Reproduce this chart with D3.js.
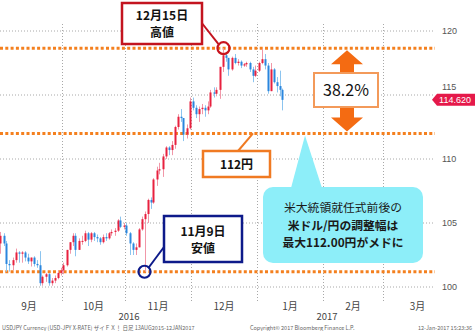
<!DOCTYPE html>
<html>
<head>
<meta charset="utf-8">
<script src="https://cdn.jsdelivr.net/npm/d3@7"></script>
<style>
body { margin: 0; background: #fff; }
svg { display: block; font-family: "Noto Sans CJK JP", "Noto Sans", sans-serif; }
</style>
</head>
<body>
<svg width="475" height="331"></svg>
<script>
// daily USDJPY, 1 Sep 2016 .. 12 Jan 2017 (one value per weekday)
var open = [
  103.0,103.4,104.0,103.4,101.8,101.7,102.1,102.7,102.6,102.7,102.3,102.0,102.3,101.8,101.7,100.3,100.8,101.0,100.3,100.5,100.7,101.1,
  101.3,101.7,102.9,103.5,104.0,102.9,103.6,103.6,104.2,103.7,104.2,103.9,103.8,103.5,103.9,103.8,104.2,104.3,104.4,105.2,104.7,
  104.8,104.2,103.4,102.9,103.1,104.5,105.3,105.7,106.8,106.6,108.4,109.1,109.2,110.2,110.9,110.7,111.1,112.5,113.3,113.2,111.9,112.4,
  114.5,114.0,113.5,113.9,114.0,113.8,114.1,115.2,115.1,115.4,117.2,118.1,117.9,117.0,117.9,117.5,117.6,117.3,117.4,117.5,117.0,116.5,
  116.9,117.5,117.8,117.3,115.3,117.0,116.0,115.7,115.4];
var high = [
  103.8,104.3,104.2,103.6,102.1,102.3,103.0,102.8,102.8,102.8,102.6,102.3,102.4,102.1,102.8,100.9,101.1,101.1,100.7,100.9,101.3,101.5,
  101.9,102.9,103.5,104.2,104.2,103.8,104.0,104.4,104.3,104.3,104.3,104.1,103.9,104.1,104.2,104.3,104.5,104.6,105.3,105.5,105.0,
  105.0,104.3,103.5,103.4,104.6,105.5,105.9,106.9,107.0,108.5,109.4,109.7,110.4,111.0,111.0,111.4,112.6,113.5,113.9,113.2,112.7,114.8,
  114.8,114.2,114.1,114.3,114.2,114.5,115.4,115.6,115.6,117.2,118.66,118.2,117.9,118.0,118.2,117.8,117.7,117.5,117.6,117.6,117.2,117.3,
  117.6,118.6,118.2,117.5,117.5,117.1,116.4,116.9,115.5];
var low = [
  102.9,102.6,103.2,101.2,101.2,101.3,101.9,101.9,101.9,102.0,101.8,101.6,101.6,101.5,100.1,100.1,100.4,100.1,100.1,100.3,100.6,100.9,
  101.0,101.6,102.6,103.2,102.4,102.9,103.3,103.5,103.2,103.5,103.6,103.5,103.3,103.4,103.6,103.7,104.0,104.0,104.3,104.6,104.5,
  104.0,102.5,102.5,102.5,103.1,104.4,101.19,105.0,106.1,106.5,107.9,108.8,108.6,110.0,110.3,110.3,110.8,112.3,112.9,111.4,111.6,112.3,
  113.8,113.2,112.9,113.5,113.3,113.5,114.0,114.8,114.9,114.7,116.8,117.6,116.5,116.9,117.4,117.3,117.1,117.2,117.2,116.8,116.0,116.4,
  116.8,117.4,117.0,115.1,115.3,115.9,115.2,114.9,113.8];
var close = [
  103.4,104.0,103.4,101.8,101.7,102.1,102.7,102.6,102.7,102.3,102.0,102.3,101.8,101.7,100.3,100.8,101.0,100.3,100.5,100.7,101.1,101.3,
  101.7,102.9,103.5,104.0,102.9,103.6,103.6,104.2,103.7,104.2,103.9,103.8,103.5,103.9,103.8,104.2,104.3,104.4,105.2,104.7,104.8,
  104.2,103.4,102.9,103.1,104.5,105.3,105.7,106.8,106.6,108.4,109.1,109.2,110.2,110.9,110.7,111.1,112.5,113.3,113.2,111.9,112.4,114.5,
  114.0,113.5,113.9,114.0,113.8,114.1,115.2,115.1,115.4,117.2,118.1,117.9,117.0,117.9,117.5,117.6,117.3,117.4,117.5,117.0,116.5,116.9,
  117.5,117.8,117.3,115.3,117.0,116.0,115.7,115.4,114.62];

var monthLabels = ["9月", "10月", "11月", "12月", "1月", "2月", "3月"];
var yearLabels = [{ text: "2016", month: 2 }, { text: "2017", month: 5 }];
var yTicks = [100, 105, 110, 115, 120];
var lastPrice = "114.620";

// marked levels
var highLevel = 118.66, highDate = new Date(2016, 11, 15);
var lowLevel = 101.19, lowDate = new Date(2016, 10, 9);
var retraceLevel = 112.0;

var footLeft = "USDJPY Currency (USD-JPY X-RATE) ザイＦＸ！  日足 13AUG2015-12JAN2017";
var footMid = "Copyright© 2017 Bloomberg Finance L.P.";
var footRight = "12-Jan-2017 15:23:36";

var svg = d3.select("svg");

// weekday calendar sep 2016 .. mar 2017
var days = d3.timeDay.range(new Date(2016, 8, 1), new Date(2017, 3, 1))
  .filter(function(d) { return d.getDay() !== 0 && d.getDay() !== 6; });
var dayIndex = function(date) {
  return days.findIndex(function(d) { return +d === +date; });
};
var monthStarts = [];
days.forEach(function(d, i) {
  if (i === 0 || d.getMonth() !== days[i - 1].getMonth()) monthStarts.push(i);
});
monthStarts.push(days.length);

var xScale = d3.scaleLinear().domain([0, days.length]).range([-4, 452]);
var yScale = d3.scaleLinear().domain([100, 120]).range([287, 31]);
var plotRight = 435;

// grid
svg.append("g").selectAll("line").data(yTicks).enter().append("line")
  .attr("x1", 0).attr("x2", plotRight)
  .attr("y1", function(d) { return yScale(d); })
  .attr("y2", function(d) { return yScale(d); })
  .attr("stroke", "#a8a8a8").attr("stroke-width", 1).attr("stroke-dasharray", "1,2");
svg.append("g").selectAll("line").data(monthStarts.slice(1, 7)).enter().append("line")
  .attr("x1", function(d) { return Math.round(xScale(d)) + 0.5; })
  .attr("x2", function(d) { return Math.round(xScale(d)) + 0.5; })
  .attr("y1", 24).attr("y2", 301)
  .attr("stroke", "#a8a8a8").attr("stroke-width", 1).attr("stroke-dasharray", "1,2");

// right axis (115 sits just above the price tag like in the original)
var yAxis = svg.append("g")
  .attr("transform", "translate(" + (plotRight + 4) + ",0)")
  .call(d3.axisRight(yScale).tickValues(yTicks).tickSize(0).tickFormat(d3.format("d")));
yAxis.select(".domain").remove();
yAxis.selectAll("text").attr("font-size", 9).attr("fill", "#555")
  .attr("font-family", "Liberation Sans, Arial, sans-serif")
  .attr("dy", function(d) { return d === 115 ? "-0.6em" : "0.32em"; });

// month + year labels
svg.append("g").selectAll("text").data(monthLabels).enter().append("text")
  .attr("x", function(d, i) { return (xScale(monthStarts[i]) + xScale(monthStarts[i + 1])) / 2; })
  .attr("y", 310)
  .attr("text-anchor", "middle").attr("font-size", 10).attr("fill", "#444")
  .text(function(d) { return d; });
svg.append("g").selectAll("text").data(yearLabels).enter().append("text")
  .attr("x", function(d) { return xScale(monthStarts[d.month]) + 4; })
  .attr("y", 320)
  .attr("text-anchor", "middle").attr("font-size", 9.5).attr("fill", "#444")
  .text(function(d) { return d.text; });

// orange level lines
svg.append("g").selectAll("line").data([highLevel, retraceLevel, lowLevel]).enter().append("line")
  .attr("x1", 0).attr("x2", plotRight)
  .attr("y1", function(d) { return yScale(d); })
  .attr("y2", function(d) { return yScale(d); })
  .attr("stroke", "#f4801f").attr("stroke-width", 3).attr("stroke-dasharray", "3,2.3");

// candles
var candles = close.map(function(c, i) {
  return { i: i, o: open[i], h: high[i], l: low[i], c: c };
});
var up = function(d) { return d.c >= d.o; };
var g = svg.append("g");
g.selectAll(".wick").data(candles).enter().append("line")
  .attr("x1", function(d) { return Math.round(xScale(d.i + 0.5)) + 0.5; })
  .attr("x2", function(d) { return Math.round(xScale(d.i + 0.5)) + 0.5; })
  .attr("y1", function(d) { return yScale(d.h); })
  .attr("y2", function(d) { return yScale(d.l); })
  .attr("stroke", function(d) { return up(d) ? "#f197a8" : "#8cc4ef"; })
  .attr("stroke-width", 1);
g.selectAll(".body").data(candles).enter().append("rect")
  .attr("x", function(d) { return Math.round(xScale(d.i + 0.5)) - 0.5; })
  .attr("width", 2)
  .attr("y", function(d) { return yScale(Math.max(d.o, d.c)); })
  .attr("height", function(d) { return Math.max(1, Math.abs(yScale(d.o) - yScale(d.c))); })
  .attr("fill", function(d) { return up(d) ? "#e8213f" : "#2a86de"; });

// last price tag
var ty = yScale(+lastPrice);
svg.append("path")
  .attr("d", "M432," + ty + " L437," + (ty - 6) + " H475 V" + (ty + 6) + " H437 Z")
  .attr("fill", "#e5194a");
svg.append("text").attr("x", 455).attr("y", ty + 3.5)
  .attr("text-anchor", "middle").attr("font-size", 9).attr("fill", "#fff")
  .attr("font-family", "Liberation Sans, Arial, sans-serif")
  .text(lastPrice);

// 38.2% double arrow
var ax = 347, aTop = yScale(highLevel) + 2, aBot = yScale(retraceLevel) - 2;
svg.append("path")
  .attr("d", "M" + ax + "," + aTop + " L" + (ax + 16) + "," + (aTop + 14) + " H" + (ax + 7) +
    " V" + (aBot - 14) + " H" + (ax + 16) + " L" + ax + "," + aBot + " L" + (ax - 16) + "," + (aBot - 14) +
    " H" + (ax - 7) + " V" + (aTop + 14) + " H" + (ax - 16) + " Z")
  .attr("fill", "#f46b12");
svg.append("rect").attr("x", 314).attr("y", 73).attr("width", 64).attr("height", 34)
  .attr("fill", "#fff").attr("stroke", "#f39a5a").attr("stroke-width", 2);
svg.append("text").attr("x", 346).attr("y", 96).attr("text-anchor", "middle")
  .attr("font-size", 16).attr("fill", "#111").text("38.2%");

// annotation boxes
function note(x, y, w, h, color, lines, lx1, ly1, lx2, ly2) {
  svg.append("line").attr("x1", lx1).attr("y1", ly1).attr("x2", lx2).attr("y2", ly2)
    .attr("stroke", color).attr("stroke-width", 2);
  svg.append("rect").attr("x", x).attr("y", y).attr("width", w).attr("height", h)
    .attr("fill", "#fff").attr("stroke", color).attr("stroke-width", 2.5);
  lines.forEach(function(t, i) {
    svg.append("text").attr("x", x + w / 2).attr("y", y + h / 2 + 5 + (i - (lines.length - 1) / 2) * 17)
      .attr("text-anchor", "middle").attr("font-size", 12).attr("font-weight", "bold")
      .attr("fill", "#111").text(t);
  });
}
var hx = xScale(dayIndex(highDate) + 0.5), hy = yScale(highLevel);
var lx = xScale(dayIndex(lowDate) + 0.5), ly = yScale(lowLevel);

note(122, 3, 80, 41, "#c3141f", ["12月15日", "高値"], 201, 22, hx - 4, hy - 4);
note(203, 151, 67, 26, "#f07a22", ["112円"], 238, 151, 253, yScale(retraceLevel));
note(164, 216, 78, 46, "#0d1a8a", ["11月9日", "安値"], 164, 247, lx + 4, ly - 4);

svg.append("circle").attr("cx", hx + 1).attr("cy", hy).attr("r", 6)
  .attr("fill", "none").attr("stroke", "#c8141e").attr("stroke-width", 2.2);
svg.append("circle").attr("cx", lx).attr("cy", ly).attr("r", 6)
  .attr("fill", "none").attr("stroke", "#0d1a8a").attr("stroke-width", 2.2);

// cyan callout
svg.append("path")
  .attr("d", "M" + 291 + ",188 L305," + (yScale(retraceLevel) + 2) + " L322,188 Z")
  .attr("fill", "#8deef9");
svg.append("rect").attr("x", 263).attr("y", 187).attr("width", 160).attr("height", 76)
  .attr("rx", 10).attr("fill", "#8deef9");
var calloutLines = [
  { t: "米大統領就任式前後の", w: "normal" },
  { t: "米ドル/円の調整幅は", w: "bold" },
  { t: "最大112.00円がメドに", w: "bold" }];
svg.append("g").selectAll("text").data(calloutLines).enter().append("text")
  .attr("x", 343).attr("y", function(d, i) { return 212 + i * 17.5; })
  .attr("text-anchor", "middle").attr("font-size", 11.8)
  .attr("font-weight", function(d) { return d.w; }).attr("fill", "#1a1a1a")
  .text(function(d) { return d.t; });

// footer
svg.append("text").attr("x", 2).attr("y", 330).attr("font-size", 5.5).attr("fill", "#666").text(footLeft);
svg.append("text").attr("x", 250).attr("y", 330).attr("font-size", 5.5).attr("fill", "#666").text(footMid);
svg.append("text").attr("x", 472).attr("y", 330).attr("text-anchor", "end").attr("font-size", 5.5).attr("fill", "#666").text(footRight);
</script>
</body>
</html>
